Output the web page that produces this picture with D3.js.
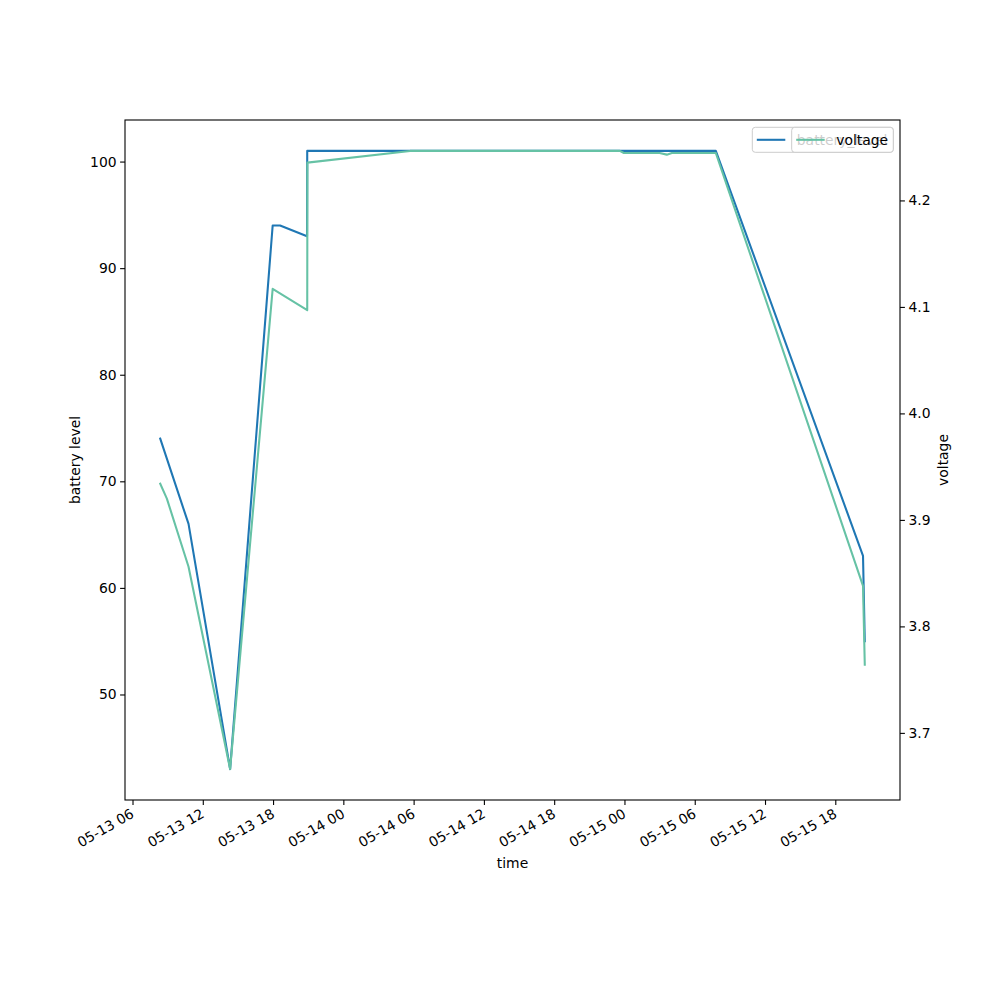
<!DOCTYPE html>
<html>
<head>
<meta charset="utf-8">
<script src="https://cdn.jsdelivr.net/npm/d3@7"></script>
<style>
  html, body { margin: 0; padding: 0; background: #fff; }
  svg { display: block; font-family: "DejaVu Sans", sans-serif; }
</style>
</head>
<body>
<svg id="chart" width="1000" height="1000"></svg>
<script>
// ---- data ----
const batteryTimes = [
  "2021-05-13 08:22", "2021-05-13 10:47", "2021-05-13 14:20", "2021-05-13 17:58",
  "2021-05-13 18:36", "2021-05-13 20:54", "2021-05-13 20:55", "2021-05-15 07:48",
  "2021-05-15 20:22", "2021-05-15 20:31"
];
const batteryLevel = [74, 66, 43, 94, 94, 93, 101, 101, 63, 55];

const voltageTimes = [
  "2021-05-13 08:22", "2021-05-13 08:56", "2021-05-13 10:47", "2021-05-13 14:20",
  "2021-05-13 17:58", "2021-05-13 20:55", "2021-05-13 20:56", "2021-05-14 05:42",
  "2021-05-14 23:36", "2021-05-14 23:57", "2021-05-15 03:00", "2021-05-15 03:37",
  "2021-05-15 04:03", "2021-05-15 07:48", "2021-05-15 20:22", "2021-05-15 20:31"
];
const voltage = [3.934, 3.920, 3.856, 3.666, 4.117, 4.097, 4.2355, 4.2465,
  4.2465, 4.2445, 4.2445, 4.243, 4.2445, 4.2445, 3.838, 3.764];

const leftTicks = [50, 60, 70, 80, 90, 100];
const rightTicks = [3.7, 3.8, 3.9, 4.0, 4.1, 4.2];
const legendLabels = ["battery_level", "voltage"];
const axisTitles = { x: "time", yLeft: "battery level", yRight: "voltage" };

// ---- setup ----
const parse = d3.timeParse("%Y-%m-%d %H:%M");
const bData = batteryTimes.map((t, i) => ({ t: parse(t), v: batteryLevel[i] }));
const vData = voltageTimes.map((t, i) => ({ t: parse(t), v: voltage[i] }));

const L = 125, R = 900, T = 120, B = 800;
const FS = 13.9;
const blue = "#1f77b4", green = "#66c2a5";

function pad(ext) {
  const span = ext[1] - ext[0];
  return [ext[0] - span * 0.05, ext[1] + span * 0.05];
}
const tExt = d3.extent(bData.concat(vData), d => +d.t);
const x = d3.scaleTime().domain(pad(tExt).map(v => new Date(v))).range([L, R]);
const yL = d3.scaleLinear().domain(pad(d3.extent(batteryLevel))).range([B, T]);
const yR = d3.scaleLinear().domain(pad(d3.extent(voltage))).range([B, T]);

const svg = d3.select("#chart");
svg.append("rect").attr("width", 1000).attr("height", 1000).attr("fill", "#fff");

const clip = svg.append("clipPath").attr("id", "clip")
  .append("rect").attr("x", L).attr("y", T).attr("width", R - L).attr("height", B - T);

// lines
const gLines = svg.append("g").attr("clip-path", "url(#clip)");
gLines.append("path").datum(bData)
  .attr("fill", "none").attr("stroke", blue).attr("stroke-width", 2.08)
  .attr("stroke-linejoin", "round").attr("stroke-linecap", "square")
  .attr("d", d3.line().x(d => x(d.t)).y(d => yL(d.v)));
gLines.append("path").datum(vData)
  .attr("fill", "none").attr("stroke", green).attr("stroke-width", 2.08)
  .attr("stroke-linejoin", "round").attr("stroke-linecap", "square")
  .attr("d", d3.line().x(d => x(d.t)).y(d => yR(d.v)));

// axes
function styleAxis(g) {
  g.selectAll("path").attr("stroke", "#000").attr("stroke-width", 1.1);
  g.selectAll("line").attr("stroke", "#000").attr("stroke-width", 1.1);
  g.selectAll("text").attr("fill", "#000").attr("font-size", FS)
    .attr("font-family", "DejaVu Sans, sans-serif");
}

const xAxis = d3.axisBottom(x).ticks(d3.timeHour.every(6))
  .tickFormat(d3.timeFormat("%m-%d %H")).tickSizeOuter(0).tickSize(4.9).tickPadding(3.5);
const gx = svg.append("g").attr("transform", `translate(0,${B})`).call(xAxis);
styleAxis(gx);
gx.select(".domain").remove();
gx.selectAll("text")
  .attr("text-anchor", "end")
  .attr("dy", null)
  .attr("y", null)
  .attr("transform", "translate(0,13) rotate(-30)")
  .attr("dominant-baseline", "middle");

const gyl = svg.append("g").attr("transform", `translate(${L},0)`)
  .call(d3.axisLeft(yL).tickValues(leftTicks).tickFormat(d3.format("d"))
    .tickSize(4.9).tickPadding(3.5).tickSizeOuter(0));
styleAxis(gyl);
gyl.select(".domain").remove();

const gyr = svg.append("g").attr("transform", `translate(${R},0)`)
  .call(d3.axisRight(yR).tickValues(rightTicks).tickFormat(d3.format(".1f"))
    .tickSize(4.9).tickPadding(3.5).tickSizeOuter(0));
styleAxis(gyr);
gyr.select(".domain").remove();

// frame
svg.append("rect").attr("x", L).attr("y", T).attr("width", R - L).attr("height", B - T)
  .attr("fill", "none").attr("stroke", "#000").attr("stroke-width", 1.1);

// axis titles
svg.append("text").attr("x", (L + R) / 2).attr("y", 868).attr("text-anchor", "middle")
  .attr("font-size", FS).text(axisTitles.x);
svg.append("text").attr("transform", `translate(80,${(T + B) / 2}) rotate(-90)`)
  .attr("text-anchor", "middle").attr("font-size", FS).text(axisTitles.yLeft);
svg.append("text").attr("transform", `translate(948,${(T + B) / 2}) rotate(-90)`)
  .attr("text-anchor", "middle").attr("font-size", FS).text(axisTitles.yRight);

// legends (two overlapping, as in twin axes)
function legend(x0, label, color) {
  const g = svg.append("g");
  g.append("rect").attr("x", x0).attr("y", 127.3).attr("width", 893.3 - x0).attr("height", 25)
    .attr("rx", 3).attr("fill", "#fff").attr("fill-opacity", 0.8)
    .attr("stroke", "#cccccc").attr("stroke-width", 1);
  g.append("line").attr("x1", x0 + 4.5).attr("x2", x0 + 33).attr("y1", 139.8).attr("y2", 139.8)
    .attr("stroke", color).attr("stroke-width", 2.08);
  g.append("text").attr("x", x0 + 44.5).attr("y", 139.8).attr("dominant-baseline", "central")
    .attr("font-size", FS).attr("fill", "#000").text(label);
}
legend(752.3, legendLabels[0], blue);
legend(791.7, legendLabels[1], green);
</script>
</body>
</html>
